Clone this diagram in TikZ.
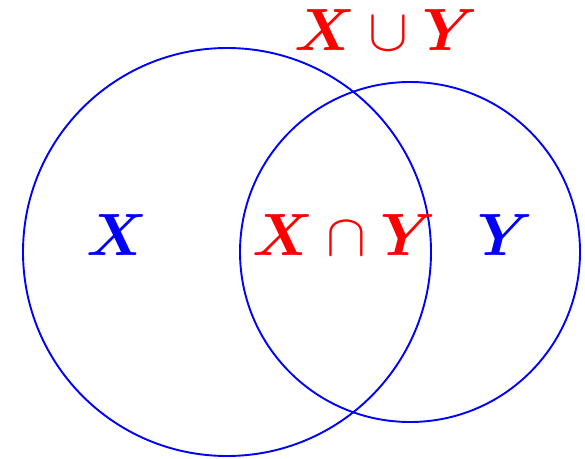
\documentclass[tikz,border=0pt]{standalone}
\usepackage{amsmath,amssymb,bm}
\newcommand{\biglbl}[1]{\scalebox{2.4}{\Huge$#1$}}
\begin{document}
\begin{tikzpicture}[x=1pt,y=1pt,
  circ/.style={draw=blue,line width=1.9pt},
  lbl/.style={inner sep=0pt}]
\useasboundingbox (0,0) rectangle (585,458);
\node[circ,circle,minimum size=408pt,inner sep=0pt] (cx) at (227,206) {};
\node[circ,circle,minimum size=340pt,inner sep=0pt] (cy) at (410,206) {};
\node[lbl,text=blue] (lx) at (117,223) {\biglbl{\bm{X}}};
\node[lbl,text=red] (lxy) at (344,223) {\biglbl{\bm{X}\cap\bm{Y}}};
\node[lbl,text=blue] (ly) at (505,223) {\biglbl{\bm{Y}}};
\node[lbl,text=red] (lu) at (386,428) {\biglbl{\bm{X}\cup\bm{Y}}};
\end{tikzpicture}
\end{document}
